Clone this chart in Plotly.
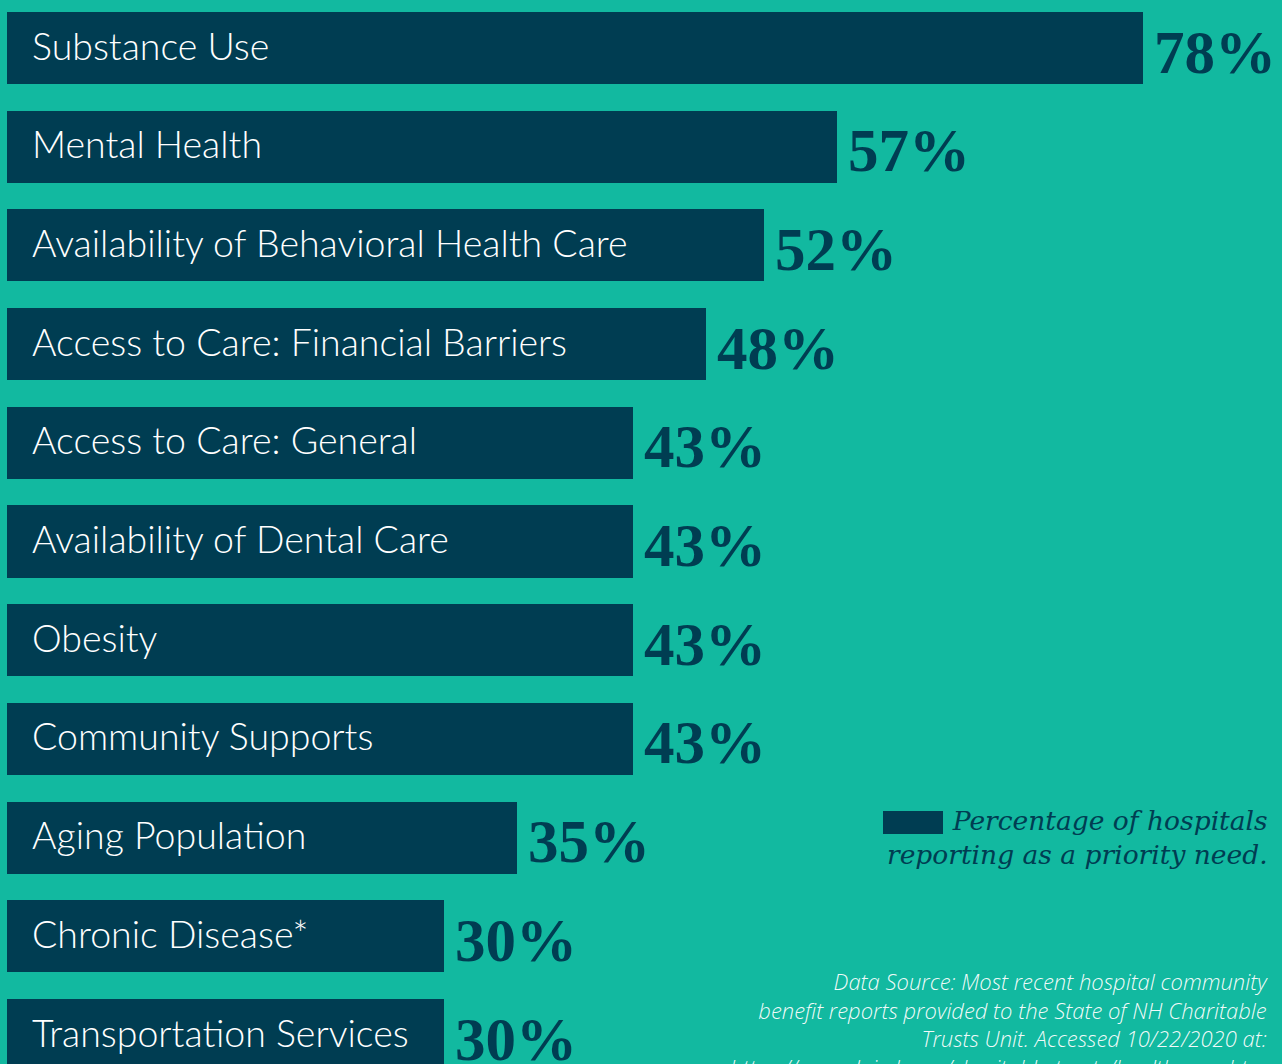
import plotly.graph_objects as go

categories = [
    "Substance Use",
    "Mental Health",
    "Availability of Behavioral Health Care",
    "Access to Care: Financial Barriers",
    "Access to Care: General",
    "Availability of Dental Care",
    "Obesity",
    "Community Supports",
    "Aging Population",
    "Chronic Disease*",
    "Transportation Services",
]
values = [78, 57, 52, 48, 43, 43, 43, 43, 35, 30, 30]
value_labels = [f"{v}%" for v in values]

legend_text = "Percentage of hospitals<br>reporting as a priority need."
source_text = ("Data Source: Most recent hospital community<br>"
               "benefit reports provided to the State of NH Charitable<br>"
               "Trusts Unit. Accessed 10/22/2020 at:<br>"
               "https://www.doj.nh.gov/charitable-trusts/health-care.htm")

BG = "#12B9A0"
BAR = "#003D52"
W, H = 1282, 1064

ypos = list(range(len(categories)))

fig = go.Figure()
fig.add_trace(go.Bar(
    x=values, y=ypos, orientation="h",
    marker=dict(color=BAR, line=dict(width=0)),
    width=0.73, hoverinfo="skip", showlegend=False,
))

annotations = []
for yi, cat, v, lab in zip(ypos, categories, values, value_labels):
    annotations.append(dict(
        x=0, y=yi, xref="x", yref="y", text=cat, showarrow=False,
        xanchor="left", yanchor="middle", xshift=23, yshift=3,
        font=dict(family="Lato", size=37.5, color="white", weight=300),
    ))
    annotations.append(dict(
        x=v, y=yi, xref="x", yref="y", text=f"<b>{lab}</b>", showarrow=False,
        xanchor="left", yanchor="middle", xshift=9, yshift=-4,
        font=dict(family="Liberation Serif", size=61, color=BAR),
    ))

annotations.append(dict(
    x=1270 / W, y=1 - 803 / H, xref="paper", yref="paper", text=f"<i>{legend_text}</i>",
    showarrow=False, xanchor="right", yanchor="top", align="right",
    font=dict(family="DejaVu Serif", size=26.5, color=BAR),
))
annotations.append(dict(
    x=1270 / W, y=1 - 964 / H, xref="paper", yref="paper", text=f"<i>{source_text}</i>",
    showarrow=False, xanchor="right", yanchor="top", align="right",
    font=dict(family="Open Sans", size=22, color="rgba(255,255,255,0.95)", weight=300),
))

shapes = [dict(
    type="rect", xref="paper", yref="paper",
    x0=883 / W, x1=943 / W, y0=1 - 834 / H, y1=1 - 811 / H,
    fillcolor=BAR, line=dict(width=0), layer="above",
)]

px_per_unit = (1143 - 7) / 78
x0 = -7 / px_per_unit
x1 = (W - 7) / px_per_unit
pitch = 98.7
yc0 = 48
y_top = -yc0 / pitch
y_bot = (H - yc0) / pitch

fig.update_layout(
    width=W, height=H,
    margin=dict(l=0, r=0, t=0, b=0),
    paper_bgcolor=BG, plot_bgcolor=BG,
    xaxis=dict(range=[x0, x1], visible=False, fixedrange=True),
    yaxis=dict(range=[y_bot, y_top], visible=False, fixedrange=True),
    annotations=annotations, shapes=shapes,
    bargap=0,
)

fig.write_html("out.html")
